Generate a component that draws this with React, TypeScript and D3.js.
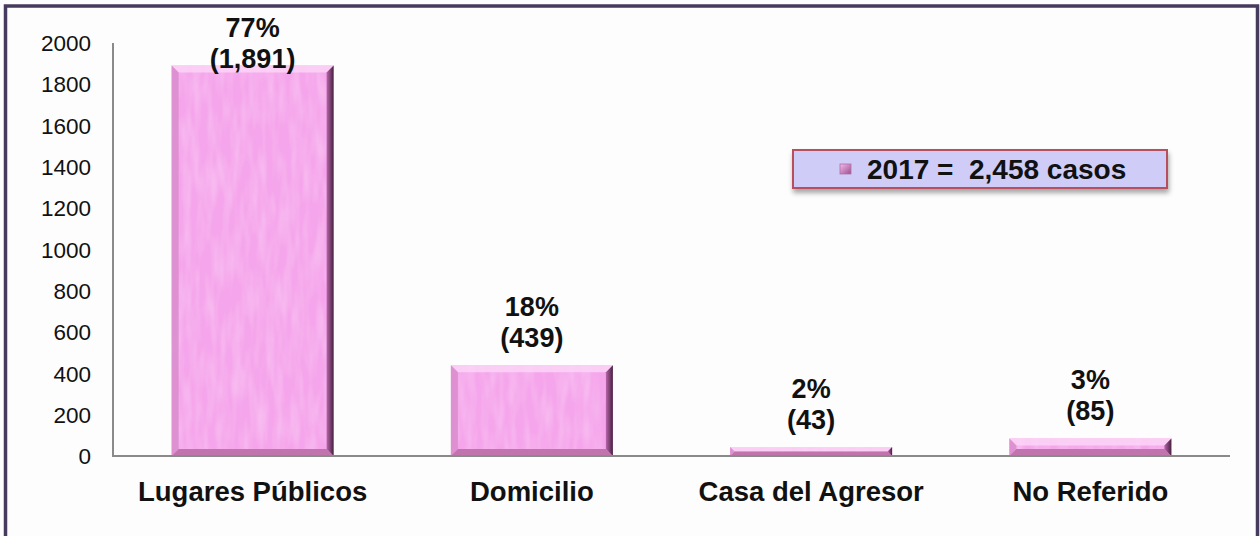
import React from "react";
import * as d3 from "d3";

const categories = ["Lugares Públicos", "Domicilio", "Casa del Agresor", "No Referido"];
const values = [1891, 439, 43, 85];
const percents = ["77%", "18%", "2%", "3%"];
const countLabels = ["(1,891)", "(439)", "(43)", "(85)"];
const yTicks = [0, 200, 400, 600, 800, 1000, 1200, 1400, 1600, 1800, 2000];
const legendLabel = "2017 =  2,458 casos";

const W = 1260;
const H = 536;
const FONT = "'Liberation Sans', Arial, sans-serif";

const bevelPoints = (x0: number, y0: number, x1: number, y1: number, b: number) => ({
  top: [[x0, y0], [x1, y0], [x1 - b, y0 + b], [x0 + b, y0 + b]],
  bottom: [[x0, y1], [x1, y1], [x1 - b, y1 - b], [x0 + b, y1 - b]],
  left: [[x0, y0], [x0 + b, y0 + b], [x0 + b, y1 - b], [x0, y1]],
  right: [[x1, y0], [x1 - b, y0 + b], [x1 - b, y1 - b], [x1, y1]],
});

const pts = (p: number[][]) => p.map((d) => d.join(",")).join(" ");

const App = () => {
  // scales
  const x = d3
    .scaleBand()
    .domain(categories)
    .range([113, 1230])
    .paddingInner(0.42)
    .paddingOuter(0.21);
  const y = d3.scaleLinear().domain([0, 2000]).range([456, 43]);

  return (
    <svg
      width={W}
      height={H}
      style={{ position: "absolute", left: 0, top: 0, background: "#fdfdfd" }}
      fontFamily={FONT}
    >
      <defs>
        <filter id="tex" x="0" y="0" width="1" height="1">
          <feTurbulence type="fractalNoise" baseFrequency="0.12 0.025" numOctaves="2" seed="4" result="n" />
          <feColorMatrix
            in="n"
            type="matrix"
            values="0 0 0 0 1  0 0 0 0 1  0 0 0 0 1  0.9 0 0 0 -0.3"
            result="w"
          />
          <feComposite in="w" in2="SourceGraphic" operator="in" />
        </filter>
        <linearGradient id="rightEdge" x1="0" x2="1" y1="0" y2="0">
          <stop offset="0" stopColor="#b866ab" />
          <stop offset="1" stopColor="#47203f" />
        </linearGradient>
        <linearGradient id="legendMark" x1="0" x2="1" y1="0" y2="1">
          <stop offset="0" stopColor="#f6b8ee" />
          <stop offset="1" stopColor="#9a4f8e" />
        </linearGradient>
        <filter id="shadow" x="-5%" y="-20%" width="110%" height="160%">
          <feDropShadow dx="1" dy="4" stdDeviation="2.5" floodColor="#000" floodOpacity="0.35" />
        </filter>
      </defs>

      {/* frame */}
      <rect x={5.5} y={6} width={1252} height={560} fill="#fdfdfd" stroke="#473a5f" strokeWidth={3.5} />

      {/* y ticks */}
      {yTicks.map((t) => (
        <text
          key={t}
          x={91}
          y={y(t)}
          dy="0.36em"
          textAnchor="end"
          fontSize={22.5}
          fill="#111"
        >
          {t}
        </text>
      ))}

      {/* bars */}
      {categories.map((c, i) => {
        const x0 = x(c)!;
        const x1 = x0 + x.bandwidth();
        const y0 = y(values[i]);
        const y1 = y(0);
        const b = Math.min(7, (y1 - y0) / 2);
        const p = bevelPoints(x0, y0, x1, y1, b);
        return (
          <g key={c}>
            <rect x={x0} y={y0} width={x1 - x0} height={y1 - y0} fill="#f5a5eb" />
            <rect x={x0} y={y0} width={x1 - x0} height={y1 - y0} fill="#fff" filter="url(#tex)" opacity={0.5} />
            <polygon points={pts(p.top)} fill="#fcd2f6" opacity={0.9} />
            <polygon points={pts(p.left)} fill="#d98ccd" opacity={0.85} />
            <polygon points={pts(p.bottom)} fill="#c173ad" />
            <polygon points={pts(p.right)} fill="url(#rightEdge)" />
          </g>
        );
      })}

      {/* axis lines */}
      <line x1={113} x2={113} y1={y(2000)} y2={y(0) + 1} stroke="#8a8a8a" strokeWidth={2} />
      <line x1={112} x2={1230} y1={y(0)} y2={y(0)} stroke="#8a8a8a" strokeWidth={2} />

      {/* value labels */}
      {categories.map((c, i) => {
        const cx = x(c)! + x.bandwidth() / 2;
        const base = Math.max(y(values[i]) - 18, 68);
        return (
          <g key={c} fontWeight="bold" fontSize={27} textAnchor="middle" fill="#111">
            <text x={cx} y={base - 31}>{percents[i]}</text>
            <text x={cx} y={base}>{countLabels[i]}</text>
          </g>
        );
      })}

      {/* category labels */}
      {categories.map((c) => (
        <text
          key={c}
          x={x(c)! + x.bandwidth() / 2}
          y={501}
          textAnchor="middle"
          fontWeight="bold"
          fontSize={27.5}
          fill="#111"
        >
          {c}
        </text>
      ))}

      {/* legend */}
      <g>
        <rect x={793} y={150} width={374} height={38} fill="#cfcdf8" stroke="#b8505e" strokeWidth={2} filter="url(#shadow)" />
        <rect x={840} y={164} width={11} height={10} fill="url(#legendMark)" stroke="#b070a4" strokeWidth={0.8} />
        <text x={867} y={179} fontWeight="bold" fontSize={28} fill="#111" style={{ whiteSpace: "pre" }}>
          {legendLabel}
        </text>
      </g>
    </svg>
  );
};

export default App;
